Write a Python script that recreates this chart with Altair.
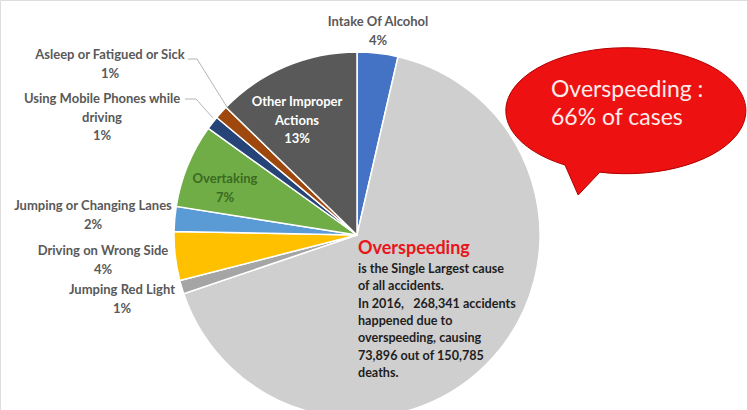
import altair as alt
import pandas as pd

# ---- data ----
causes = ["Intake Of Alcohol", "Overspeeding", "Jumping Red Light", "Driving on Wrong Side",
          "Jumping or Changing Lanes", "Overtaking", "Using Mobile Phones while driving",
          "Asleep or Fatigued or Sick", "Other Improper Actions"]
shares = [3.6, 66.2, 1.2, 4.3, 2.2, 7.4, 1.2, 1.2, 12.7]
slice_colors = ["#4472C4", "#CFCFCF", "#A5A5A5", "#FFC000", "#5B9BD5", "#70AD47",
                "#264478", "#9E480E", "#595959"]

# label wording (as wrapped in the picture), per slice (Overspeeding has its own note)
label_names = ["Intake Of Alcohol", None, "Jumping Red Light", "Driving on Wrong Side",
               "Jumping or Changing Lanes", "Overtaking", "Using Mobile Phones while\ndriving",
               "Asleep or Fatigued or Sick", "Other Improper\nActions"]

NB = "\u00a0"
note_title = "Overspeeding"
note_lines = [NB * 2 + "is the Single Largest cause", "of all accidents.",
              "In 2016," + NB * 3 + "268,341 accidents", "happened due to",
              "overspeeding, causing", "73,896 out of 150,785", "deaths."]
bubble_lines = ["Overspeeding :", "66% of cases"]

# ---- layout (positions / styles, not data) ----
CX, CY, R = 357, 235, 183
label_x = [378, None, 122, 103, 93, 225, 102, 110, 297]
label_y = [22, None, 290, 251, 206, 179, 99, 55, 102]
label_color = ["#595959", None, "#595959", "#595959", "#595959", "#3A6B20",
               "#595959", "#595959", "#FFFFFF"]

pie_df = pd.DataFrame({"cause": causes, "share": shares, "idx": list(range(len(causes)))})

rows = []
for i, name in enumerate(label_names):
    if name is None:
        continue
    rows.append({"text": f"{name}\n{round(shares[i])}%", "x": label_x[i], "y": label_y[i],
                 "col": label_color[i]})
lab_df = pd.DataFrame(rows)

leader_df = pd.DataFrame({
    "g": ["a", "a", "a", "b", "b", "b"],
    "o": [0, 1, 2, 0, 1, 2],
    "x": [188, 197, 227, 185, 196, 213],
    "y": [59, 59, 107, 99, 99, 118],
})

pie = alt.Chart(pie_df).mark_arc(outerRadius=R, stroke="white", strokeWidth=1.5).encode(
    theta=alt.Theta("share:Q", stack=True),
    color=alt.Color("cause:N", scale=alt.Scale(domain=causes, range=slice_colors), legend=None),
    order=alt.Order("idx:Q"),
    x=alt.value(CX), y=alt.value(CY),
)

labels = alt.Chart(lab_df).mark_text(
    font="Lato", fontWeight="bold", fontSize=13, lineBreak="\n", lineHeight=18.5,
    align="center", baseline="middle"
).encode(
    x=alt.X("x:Q", scale=None, axis=None),
    y=alt.Y("y:Q", scale=None, axis=None),
    text="text:N",
    color=alt.Color("col:N", scale=None),
)

leaders = alt.Chart(leader_df).mark_line(color="#B5B5B5", strokeWidth=1).encode(
    x=alt.X("x:Q", scale=None, axis=None),
    y=alt.Y("y:Q", scale=None, axis=None),
    detail="g:N", order="o:Q",
)

bubble_path = "M -0.21,0.51 L -0.39,0.70 L -0.5,0.45 A 1,0.525 0 1,1 -0.21,0.51 Z"
bubble = alt.Chart(pd.DataFrame({"k": [0]})).mark_point(
    shape=bubble_path, size=240 * 240, filled=True, fill="#EE1111", stroke="#B00000",
    strokeWidth=1, opacity=1
).encode(x=alt.value(625), y=alt.value(111))

bubble_text = alt.Chart(pd.DataFrame({"t": ["\n".join(bubble_lines)]})).mark_text(
    font="Lato", fontSize=23, lineBreak="\n", lineHeight=28, align="left",
    baseline="middle", color="#FDEAEA"
).encode(x=alt.value(551), y=alt.value(90), text="t:N")

note_head = alt.Chart(pd.DataFrame({"t": [note_title]})).mark_text(
    font="Lato", fontWeight="bold", fontSize=18, align="left", baseline="middle",
    color="#E8161B"
).encode(x=alt.value(358), y=alt.value(249), text="t:N")

note_body = alt.Chart(pd.DataFrame({"t": ["\n".join(note_lines)]})).mark_text(
    font="Lato", fontWeight="bold", fontSize=12.6, lineBreak="\n", lineHeight=17.3,
    align="left", baseline="middle", color="#1E1E1E"
).encode(x=alt.value(358), y=alt.value(269), text="t:N")

chart = alt.layer(pie, leaders, labels, bubble, bubble_text, note_head, note_body).properties(
    width=747, height=410, padding=0, autosize=alt.AutoSizeParams(type="none")
).configure_view(stroke=None).configure(background="white")

chart.save("out.html", embed_options={"renderer": "svg", "actions": False})
